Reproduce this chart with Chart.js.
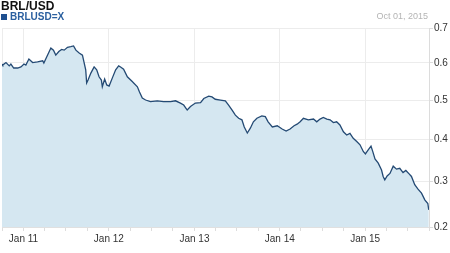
<!DOCTYPE html>
<html>
<head>
<meta charset="utf-8">
<script src="https://cdn.jsdelivr.net/npm/chart.js@4/dist/chart.umd.min.js"></script>
<style>
  html, body { margin: 0; padding: 0; background: #fff; }
  #wrap { position: relative; width: 450px; height: 253px; overflow: hidden; font-family: "Liberation Sans", Arial, sans-serif; }
  #c { position: absolute; left: 0; top: 0; }
  .title { position: absolute; left: 1px; top: 0px; font-weight: bold; font-size: 12px; line-height: 13px; color: #111; }
  .legend { position: absolute; left: 1px; top: 11px; font-weight: bold; font-size: 10px; line-height: 11px; color: #2a5f9f; }
  .legend .sw { display: inline-block; width: 6px; height: 6px; background: #1f4f8f; margin-right: 3px; vertical-align: 0px; }
  .date { position: absolute; right: 22px; top: 11px; font-size: 9px; line-height: 11px; color: #b4b4b4; }
</style>
</head>
<body>
<div id="wrap">
  <canvas id="c" width="450" height="253"></canvas>
  <div class="title">BRL/USD</div>
  <div class="legend"><span class="sw"></span>BRLUSD=X</div>
  <div class="date">Oct 01, 2015</div>
</div>
<script>
const seriesName = 'BRLUSD=X';
const dates = [
  '2010-10-01','2010-10-04','2010-10-18','2010-11-01','2010-11-08','2010-11-20','2010-12-07','2010-12-21',
  '2011-01-03','2011-01-11','2011-01-24','2011-02-09','2011-03-02','2011-03-24','2011-03-29','2011-04-14',
  '2011-04-28','2011-05-09','2011-05-19','2011-06-01','2011-06-13','2011-06-24','2011-07-08','2011-07-22',
  '2011-08-03','2011-08-13','2011-08-27','2011-09-10','2011-09-24','2011-09-28','2011-10-04','2011-10-16',
  '2011-10-30','2011-11-10','2011-11-20','2011-11-30','2011-12-04','2011-12-14','2011-12-23','2012-01-02',
  '2012-01-16','2012-01-30','2012-02-12','2012-02-20','2012-03-04','2012-03-20','2012-04-10','2012-05-02',
  '2012-05-11','2012-05-23','2012-06-06','2012-06-27','2012-07-26','2012-08-22','2012-09-21','2012-10-12',
  '2012-11-02','2012-11-16','2012-12-01','2012-12-15','2013-01-05','2013-01-27','2013-02-10','2013-03-03',
  '2013-03-17','2013-03-31','2013-04-22','2013-05-13','2013-05-27','2013-06-11','2013-06-25','2013-07-09',
  '2013-07-23','2013-08-02','2013-08-15','2013-08-28','2013-09-10','2013-09-25','2013-10-16','2013-10-31',
  '2013-11-12','2013-11-30','2013-12-21','2014-01-11','2014-01-28','2014-02-14','2014-03-03','2014-03-16',
  '2014-03-29','2014-04-12','2014-05-03','2014-05-25','2014-06-08','2014-06-22','2014-07-06','2014-07-21',
  '2014-08-04','2014-08-18','2014-09-01','2014-09-15','2014-09-30','2014-10-14','2014-10-28','2014-11-11',
  '2014-11-26','2014-12-10','2014-12-24','2015-01-02','2015-01-14','2015-01-26','2015-02-03','2015-02-12',
  '2015-02-26','2015-03-12','2015-03-19','2015-03-26','2015-04-05','2015-04-17','2015-05-01','2015-05-15',
  '2015-05-29','2015-06-12','2015-06-24','2015-07-08','2015-07-18','2015-08-01','2015-08-15','2015-08-30',
  '2015-09-13','2015-09-26','2015-09-30'
];
const rates = [
  0.597,0.594,0.601,0.592,0.597,0.586,0.586,0.589,
  0.597,0.594,0.611,0.601,0.603,0.606,0.600,0.622,
  0.642,0.636,0.622,0.632,0.638,0.636,0.644,0.646,
  0.648,0.636,0.628,0.622,0.581,0.545,0.553,0.572,
  0.589,0.581,0.562,0.553,0.535,0.556,0.540,0.537,
  0.559,0.581,0.592,0.589,0.583,0.562,0.549,0.535,
  0.521,0.505,0.500,0.496,0.498,0.496,0.496,0.498,
  0.492,0.487,0.474,0.483,0.492,0.493,0.504,0.510,
  0.508,0.502,0.500,0.498,0.487,0.474,0.461,0.453,
  0.449,0.431,0.416,0.428,0.444,0.453,0.459,0.457,
  0.444,0.431,0.434,0.426,0.421,0.426,0.434,0.438,
  0.444,0.453,0.449,0.451,0.444,0.451,0.455,0.451,
  0.449,0.442,0.444,0.436,0.419,0.411,0.415,0.403,
  0.395,0.387,0.371,0.365,0.375,0.384,0.370,0.353,
  0.343,0.327,0.312,0.304,0.313,0.319,0.336,0.329,
  0.331,0.321,0.326,0.318,0.312,0.293,0.283,0.274,
  0.259,0.251,0.237
];
const yTicks = [0.2, 0.3, 0.4, 0.5, 0.6, 0.7];
const yearTicks = ['2011-01-01','2012-01-01','2013-01-01','2014-01-01','2015-01-01'];
const yearLabels = ['Jan 11','Jan 12','Jan 13','Jan 14','Jan 15'];
const xStart = '2010-10-01';
const xEnd = '2015-10-01';

const dayOf = s => { const [y,m,d] = s.split('-').map(Number); return (Date.UTC(y,m-1,d) - Date.UTC(2010,9,1)) / 86400000; };

// quarterly minor ticks
const quarterTicks = [];
for (let y = 2010; y <= 2015; y++) for (const m of [1,4,7,10]) {
  const s = y + '-' + String(m).padStart(2,'0') + '-01';
  const d = dayOf(s);
  if (d >= dayOf(xStart) && d <= dayOf(xEnd)) quarterTicks.push(d);
}
const yearDays = yearTicks.map(dayOf);

// warped value scale matching the reference's y spacing
const WARP = 1.1;
class WarpScale extends Chart.LinearScale {
  _t(v) { return Math.log(v + WARP); }
  getPixelForValue(value) {
    const a = this._t(this.min), b = this._t(this.max);
    return this.getPixelForDecimal((this._t(value) - a) / (b - a));
  }
  getValueForPixel(pixel) {
    const a = this._t(this.min), b = this._t(this.max);
    return Math.exp(a + this.getDecimalForPixel(pixel) * (b - a)) - WARP;
  }
}
WarpScale.id = 'warp';
WarpScale.defaults = Chart.LinearScale.defaults;
Chart.register(WarpScale);

const points = dates.map((d, i) => ({ x: dayOf(d), y: rates[i] }));

new Chart(document.getElementById('c'), {
  type: 'line',
  data: {
    datasets: [{
      label: seriesName,
      data: points,
      borderColor: '#244a74',
      borderWidth: 1.3,
      backgroundColor: '#d5e7f1',
      fill: 'start',
      pointRadius: 0,
      tension: 0
    }]
  },
  options: {
    responsive: false,
    devicePixelRatio: 1,
    animation: false,
    layout: { padding: { top: 28, left: 1, right: 0, bottom: 0 } },
    plugins: { legend: { display: false }, tooltip: { enabled: false }, title: { display: false } },
    scales: {
      x: {
        type: 'linear',
        position: 'bottom',
        min: dayOf(xStart),
        max: dayOf(xEnd),
        afterBuildTicks: s => { s.ticks = quarterTicks.map(v => ({ value: v })); },
        afterFit: s => { s.height = 26; },
        ticks: {
          autoSkip: false, maxRotation: 0, padding: 2,
          color: '#333', font: { family: '"Liberation Sans", Arial, sans-serif', size: 10 },
          callback: v => { const i = yearDays.indexOf(v); return i >= 0 ? yearLabels[i] : ''; }
        },
        grid: {
          color: ctx => (ctx.tick && (yearDays.includes(ctx.tick.value) || ctx.tick.value === dayOf(xStart))) ? '#ececec' : 'rgba(0,0,0,0)',
          tickColor: '#dddddd',
          tickLength: 4,
          lineWidth: 1
        },
        border: { display: true, color: '#e0e0e0' }
      },
      y: {
        type: 'warp',
        position: 'right',
        min: 0.2,
        max: 0.7,
        afterBuildTicks: s => { s.ticks = yTicks.map(v => ({ value: v })); },
        afterFit: s => { s.width = 21; },
        ticks: {
          padding: 1,
          color: '#333', font: { family: '"Liberation Sans", Arial, sans-serif', size: 10 },
          callback: v => Number(v).toFixed(1)
        },
        grid: { color: '#ececec', tickColor: '#dddddd', tickLength: 4, lineWidth: 1 },
        border: { display: true, color: '#dcdcdc' }
      }
    }
  }
});
</script>
</body>
</html>
